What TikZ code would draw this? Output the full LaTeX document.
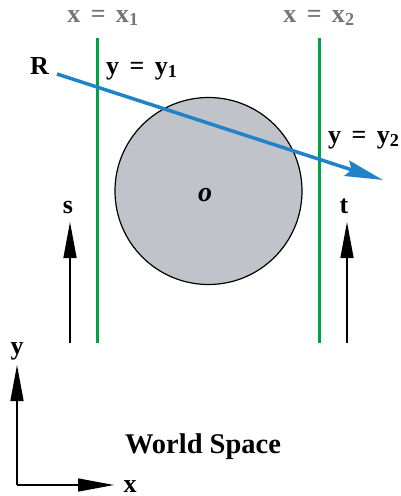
\documentclass[tikz,border=0pt]{standalone}
\usepackage{fontspec}
\setmainfont{Liberation Serif}
\usetikzlibrary{arrows.meta}
\definecolor{planegreen}{RGB}{0,162,72}
\definecolor{raybl}{RGB}{32,130,200}
\definecolor{labelgray}{RGB}{112,118,122}
\definecolor{objgray}{RGB}{192,196,202}
\newcommand{\eqsign}{\hspace{0.4em}=\hspace{0.4em}}
\tikzset{
  plane/.style={planegreen, line width=3pt},
  ray/.style={raybl, line width=3.5pt, -{Stealth[length=38pt, width=16pt, inset=5pt]}},
  dirarrow/.style={black, line width=1.4pt, -{Triangle[length=36pt, width=13pt]}},
  lbl/.style={anchor=base, inner sep=0pt}
}

\begin{document}
\begin{tikzpicture}[x=1pt, y=-1pt, every node/.style={font=\fontsize{26}{28}\selectfont\bfseries}]
	\useasboundingbox (0,0) rectangle (401,496);
	% planes
	\coordinate (p1top) at (97,38);
	\coordinate (p1bot) at (97,343);
	\coordinate (p2top) at (319,38);
	\coordinate (p2bot) at (319,343);
	\draw[plane] (p1top) -- (p1bot);
	\draw[plane] (p2top) -- (p2bot);
	\node[lbl, labelgray] (xa) at (103,22) {x\eqsign x\textsubscript{1}};
	\node[lbl, labelgray] (xb) at (319,22) {x\eqsign x\textsubscript{2}};
	% object
	\node[circle, draw, line width=1.2pt, fill=objgray, minimum size=187pt, inner sep=0pt] (obj) at (208.5,191) {};
	\node[lbl, font=\fontsize{28}{30}\selectfont\bfseries\itshape] (o) at (205,201) {o};
	% ray
	\node[lbl, anchor=base west] (R) at (30,74) {R};
	\coordinate (r0) at (57,74);
	\coordinate (r1) at (383,180);
	\draw[ray] (r0) -- (r1);
	\node[lbl, anchor=base west] (ya) at (106,74) {y\eqsign y\textsubscript{1}};
	\node[lbl, anchor=base west] (yb) at (328,143) {y\eqsign y\textsubscript{2}};
	% directions
	\coordinate (s0) at (70,343);
	\coordinate (s1) at (70,222);
	\coordinate (t0) at (347,343);
	\coordinate (t1) at (347,222);
	\draw[dirarrow] (s0) -- (s1);
	\draw[dirarrow] (t0) -- (t1);
	\node[lbl] (s) at (68,213) {s};
	\node[lbl] (t) at (344,213) {t};
	% axes
	\coordinate (orig) at (17,485);
	\coordinate (yax) at (17,365);
	\coordinate (xax) at (114,485);
	\draw[dirarrow] (orig) -- (yax);
	\draw[dirarrow] (orig) -- (xax);
	\node[lbl] (ylab) at (17,354) {y};
	\node[lbl] (xlab) at (130,492) {x};
	\node[lbl, font=\fontsize{28.5}{30}\selectfont\bfseries] (world) at (203,453) {World Space};
\end{tikzpicture}
\end{document}
